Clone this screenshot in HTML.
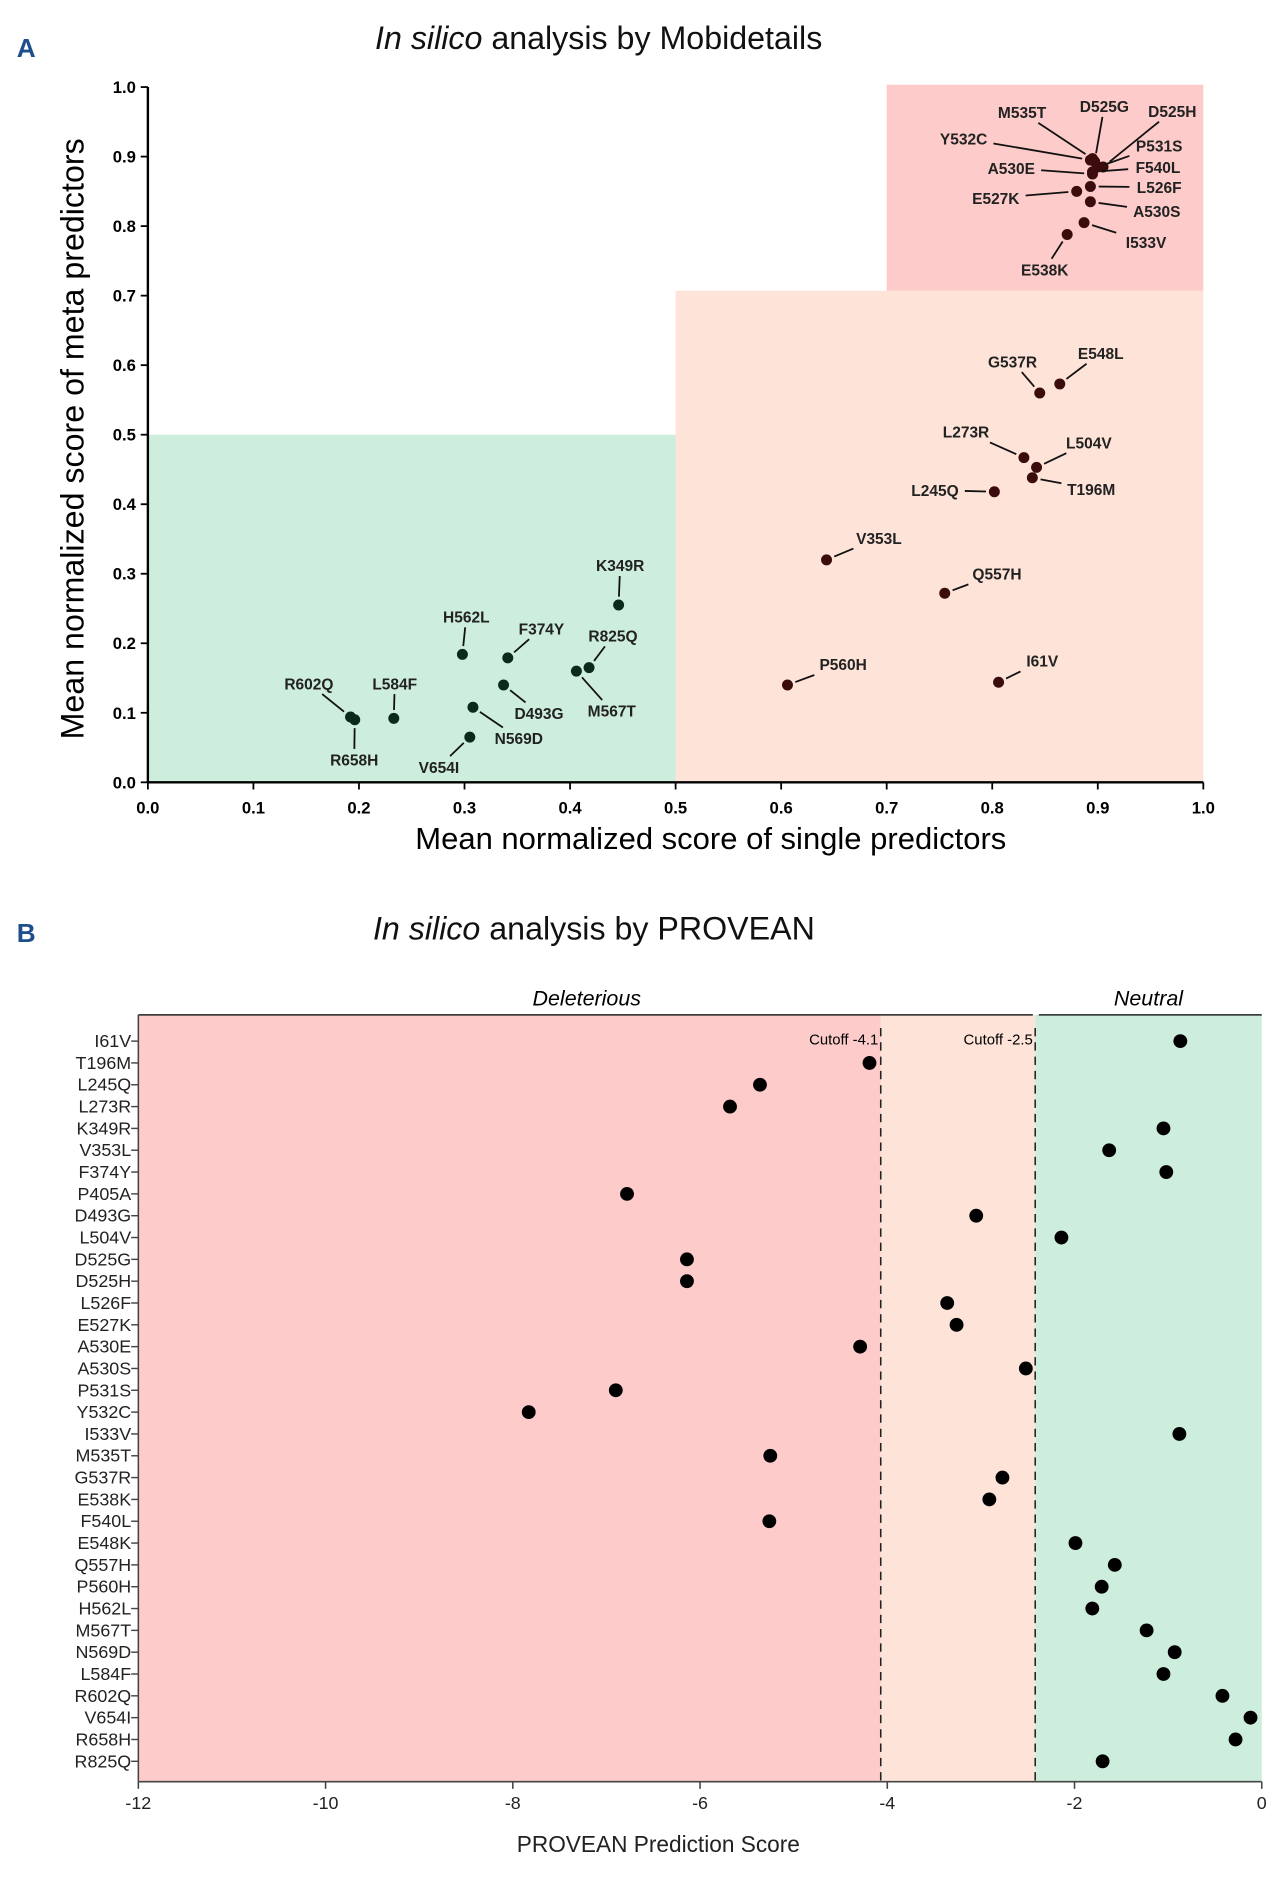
<!DOCTYPE html>
<html><head><meta charset="utf-8"><style>
html,body{margin:0;padding:0;background:#fff;}
svg{display:block;font-family:"Liberation Sans",sans-serif;}
</style></head><body>
<svg id="c" width="1288" height="1887" viewBox="0 0 1080 1582.3" preserveAspectRatio="none">
<g id="gA"></g>
<g id="gB"></g>
</svg>
<script>
// ---- Panel A data ----
const aNames = ["Y532C","M535T","D525G","D525H","P531S","A530E","F540L","L526F","E527K","A530S","I533V","E538K","G537R","E548L","L273R","L504V","T196M","L245Q","V353L","Q557H","P560H","I61V","K349R","H562L","F374Y","R825Q","M567T","D493G","N569D","V654I","L584F","R602Q","R658H"];
const aSingle = [0.893,0.895,0.897,0.905,0.9,0.895,0.895,0.893,0.88,0.893,0.887,0.871,0.845,0.864,0.83,0.842,0.838,0.802,0.643,0.755,0.606,0.806,0.446,0.298,0.341,0.418,0.406,0.337,0.308,0.305,0.233,0.192,0.196];
const aMeta = [0.895,0.897,0.893,0.885,0.885,0.875,0.878,0.857,0.85,0.835,0.805,0.788,0.56,0.573,0.467,0.453,0.438,0.418,0.32,0.272,0.14,0.144,0.255,0.184,0.179,0.165,0.16,0.14,0.108,0.065,0.092,0.094,0.09];
const aTicks = [0,0.1,0.2,0.3,0.4,0.5,0.6,0.7,0.8,0.9,1.0];
const aLabelPos = [[808,116],[857,94],[926,89],[983,93],[972,122],[848,141],[971,140],[972,157],[835,166],[970,177],[961,203],[876,226],[849,303],[923,296],[810,362],[913,371],[915,410],[784,411],[737,451],[836,481],[707,557],[874,554],[520,474],[391,517],[454,527],[514,533],[513,596],[452,598],[435,619],[368,643],[331,573],[259,573],[297,637]];
// ---- Panel B data ----
const bNames = ["I61V","T196M","L245Q","L273R","K349R","V353L","F374Y","P405A","D493G","L504V","D525G","D525H","L526F","E527K","A530E","A530S","P531S","Y532C","I533V","M535T","G537R","E538K","F540L","E548K","Q557H","P560H","H562L","M567T","N569D","L584F","R602Q","V654I","R658H","R825Q"];
const bScores = [-0.87,-4.19,-5.36,-5.68,-1.05,-1.63,-1.02,-6.78,-3.05,-2.14,-6.14,-6.14,-3.36,-3.26,-4.29,-2.52,-6.9,-7.83,-0.88,-5.25,-2.77,-2.91,-5.26,-1.99,-1.57,-1.71,-1.81,-1.23,-0.93,-1.05,-0.42,-0.12,-0.28,-1.7];
const bTicks = [-12,-10,-8,-6,-4,-2,0];
const bCutoffs = [-4.07,-2.42];
const bCutoffLabels = ["Cutoff -4.1","Cutoff -2.5"];

const NS="http://www.w3.org/2000/svg";
function mk(p,tag,at,txt){const e=document.createElementNS(NS,tag);for(const k in at)e.setAttribute(k,at[k]);if(txt!==undefined)e.textContent=txt;p.appendChild(e);return e;}

// ===== Panel A =====
const A=document.getElementById('gA');
const ax=v=>124+v*885, ay=v=>656-v*583;
let t=mk(A,'text',{x:14,y:48,'font-size':22,'font-weight':'bold',fill:'#1f4e8c'},'A');

t=mk(A,'text',{x:502,y:41,'font-size':27,'text-anchor':'middle',fill:'#111'});

mk(t,'tspan',{'font-style':'italic'},'In silico');mk(t,'tspan',{},' analysis by Mobidetails');
let r=mk(A,'rect',{x:ax(0),y:ay(0.5),width:ax(0.5)-ax(0),height:ay(0)-ay(0.5),fill:'#cdeedc'});

r=mk(A,'rect',{x:ax(0.5),y:ay(0.707),width:ax(1)-ax(0.5),height:ay(0)-ay(0.707),fill:'#fde3d8'});

r=mk(A,'rect',{x:ax(0.7),y:71,width:ax(1)-ax(0.7),height:ay(0.707)-71,fill:'#fccbca'});

mk(A,'line',{x1:ax(0),y1:ay(0),x2:ax(1),y2:ay(0),stroke:'#000','stroke-width':2});
mk(A,'line',{x1:ax(0),y1:ay(0),x2:ax(0),y2:ay(1),stroke:'#000','stroke-width':2});
aTicks.forEach(v=>{
  mk(A,'line',{x1:ax(v),y1:ay(0),x2:ax(v),y2:ay(0)+6,stroke:'#000','stroke-width':1.5});
  let e=mk(A,'text',{x:ax(v),y:ay(0)+26,'font-size':14,'font-weight':'bold','text-anchor':'middle'},v.toFixed(1));
  
  mk(A,'line',{x1:ax(0)-6,y1:ay(v),x2:ax(0),y2:ay(v),stroke:'#000','stroke-width':1.5});
  e=mk(A,'text',{x:ax(0)-10,y:ay(v)+5,'font-size':14,'font-weight':'bold','text-anchor':'end'},v.toFixed(1));
  
});
t=mk(A,'text',{x:596,y:712,'font-size':26,'text-anchor':'middle'},'Mean normalized score of single predictors');

t=mk(A,'text',{x:70,y:368,'font-size':27,'text-anchor':'middle',transform:'rotate(-90 70 368)'},'Mean normalized score of meta predictors');

aNames.forEach((n,i)=>{
  const px=ax(aSingle[i]),py=ay(aMeta[i]);
  const lx=aLabelPos[i][0],ly=aLabelPos[i][1];
  const dx=lx-px,dy=ly-py;
  const hw=n.length*4.2+4,hh=9;
  let f=Math.min(Math.abs(dx)>0?hw/Math.abs(dx):9,Math.abs(dy)>0?hh/Math.abs(dy):9);
  f=Math.min(f,1);
  const d=Math.hypot(dx,dy)||1;
  const ex=lx-dx*f,ey=ly-dy*f;
  const sx=px+dx/d*7,sy=py+dy/d*7;
  if(Math.hypot(ex-px,ey-py)>8){
    const l=mk(A,'line',{x1:sx,y1:sy,x2:ex,y2:ey,stroke:'#111','stroke-width':1.5});
    
  }
  const c=mk(A,'circle',{cx:px,cy:py,r:4.6,fill:aSingle[i]<0.5?'#0c2a1c':'#3a0c0c'});
  
  const e=mk(A,'text',{x:lx,y:ly+5,'font-size':13,'font-weight':'bold','text-anchor':'middle',fill:'#222'},n);
  
});

// ===== Panel B =====
const B=document.getElementById('gB');
const bx=v=>116+(v+12)*78.5, by=i=>873+i*18.3;
const yTop=851,yBot=1494;
t=mk(B,'text',{x:14,y:790,'font-size':22,'font-weight':'bold',fill:'#1f4e8c'},'B');

t=mk(B,'text',{x:498,y:788,'font-size':27,'text-anchor':'middle',fill:'#111'});

mk(t,'tspan',{'font-style':'italic'},'In silico');mk(t,'tspan',{},' analysis by PROVEAN');
r=mk(B,'rect',{x:bx(-12),y:yTop,width:bx(bCutoffs[0])-bx(-12),height:yBot-yTop,fill:'#fccbca'});

r=mk(B,'rect',{x:bx(bCutoffs[0]),y:yTop,width:bx(bCutoffs[1])-bx(bCutoffs[0]),height:yBot-yTop,fill:'#fde3d8'});

r=mk(B,'rect',{x:bx(bCutoffs[1]),y:yTop,width:bx(0)-bx(bCutoffs[1]),height:yBot-yTop,fill:'#cdeedc'});

mk(B,'line',{x1:bx(-12),y1:yTop,x2:bx(bCutoffs[1])-2,y2:yTop,stroke:'#222','stroke-width':1.2});
mk(B,'line',{x1:bx(bCutoffs[1])+3,y1:yTop,x2:bx(0),y2:yTop,stroke:'#222','stroke-width':1.2});
t=mk(B,'text',{x:(bx(-12)+bx(bCutoffs[1]))/2,y:843,'font-size':18,'font-style':'italic','text-anchor':'middle'},'Deleterious');

t=mk(B,'text',{x:(bx(bCutoffs[1])+bx(0))/2,y:843,'font-size':18,'font-style':'italic','text-anchor':'middle'},'Neutral');

bCutoffs.forEach((c,i)=>{
  const l=mk(B,'line',{x1:bx(c),y1:862,x2:bx(c),y2:yBot,stroke:'#222','stroke-width':1.3,'stroke-dasharray':'7,5'});
  
  const e=mk(B,'text',{x:bx(c)-2,y:876,'font-size':12.5,'text-anchor':'end'},bCutoffLabels[i]);
  
});
mk(B,'line',{x1:bx(-12),y1:yBot,x2:bx(0),y2:yBot,stroke:'#444','stroke-width':1.3});
mk(B,'line',{x1:bx(-12),y1:yTop,x2:bx(-12),y2:yBot,stroke:'#444','stroke-width':1.3});
bTicks.forEach(v=>{
  mk(B,'line',{x1:bx(v),y1:yBot,x2:bx(v),y2:yBot+6,stroke:'#444','stroke-width':1.3});
  const e=mk(B,'text',{x:bx(v),y:yBot+23,'font-size':15,'text-anchor':'middle',fill:'#222'},String(v));
  
});
t=mk(B,'text',{x:552,y:1553,'font-size':19,'text-anchor':'middle',fill:'#222'},'PROVEAN Prediction Score');

bNames.forEach((n,i)=>{
  const y=by(i);
  mk(B,'line',{x1:bx(-12)-6,y1:y,x2:bx(-12),y2:y,stroke:'#444','stroke-width':1.2});
  const e=mk(B,'text',{x:bx(-12)-6,y:y+5,'font-size':15,'text-anchor':'end',fill:'#222'},n);
  
  const c=mk(B,'circle',{cx:bx(bScores[i]),cy:y,r:5.8,fill:'#000'});
  
});
</script>
</body></html>
